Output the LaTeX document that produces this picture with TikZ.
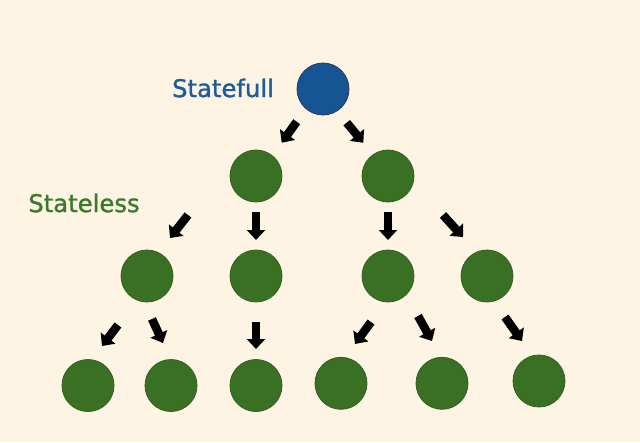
\documentclass[tikz,border=0pt]{standalone}
\usepackage{fontspec}
\setmainfont{DejaVu Sans}
\newfontfamily\labfont{DejaVu Sans}[FakeBold=1.2]
\usetikzlibrary{arrows.meta}
\definecolor{bg}{HTML}{FDF4E3}
\definecolor{bluefill}{HTML}{165594}
\definecolor{blueline}{HTML}{2B3560}
\definecolor{greenfill}{HTML}{3A7023}
\definecolor{greenline}{HTML}{335F22}
\definecolor{bluetext}{HTML}{1D5C9C}
\definecolor{greentext}{HTML}{3B7A2C}
\tikzset{
  statefull/.style={circle, minimum size=52pt, inner sep=0pt, fill=bluefill, draw=blueline, line width=0.8pt},
  stateless/.style={circle, minimum size=52pt, inner sep=0pt, fill=greenfill, draw=greenline, line width=0.8pt},
  blockarrow/.style={line width=8.5pt, -{Triangle[length=10pt,width=18pt]}, black},
  label/.style={font=\labfont\fontsize{24.3pt}{28pt}\selectfont, inner sep=0pt}
}
\begin{document}
\begin{tikzpicture}[x=1pt,y=-1pt]
\fill[bg] (0,0) rectangle (640,442);
\useasboundingbox (0,0) rectangle (640,442);
% labels
\node[label, text=bluetext] (tsf) at (223,88) {Statefull};
\node[label, text=greentext] (tsl) at (84,203) {Stateless};
% nodes
\node[statefull] (r) at (323,89) {};
\node[stateless] (l1a) at (256,176) {};
\node[stateless] (l1b) at (388,176) {};
\node[stateless] (l2a) at (147,276) {};
\node[stateless] (l2b) at (256,276) {};
\node[stateless] (l2c) at (388,276) {};
\node[stateless] (l2d) at (487,276) {};
\node[stateless] (l3a) at (88,385.5) {};
\node[stateless] (l3b) at (171,385.5) {};
\node[stateless] (l3c) at (256,385.5) {};
\node[stateless] (l3d) at (341,383.3) {};
\node[stateless] (l3e) at (442,383.3) {};
\node[stateless] (l3f) at (539,381) {};
% arrow endpoints
\coordinate (s1) at (296.7,121.7); \coordinate (e1) at (281.7,142.7);
\coordinate (s2) at (346.7,122.7); \coordinate (e2) at (363.3,142.7);
\coordinate (s3) at (188,215);     \coordinate (e3) at (170,238);
\coordinate (s4) at (256,212);     \coordinate (e4) at (256,240);
\coordinate (s5) at (388,212);     \coordinate (e5) at (388,240);
\coordinate (s6) at (443,215);     \coordinate (e6) at (463,237);
\coordinate (s7) at (118,325);     \coordinate (e7) at (102,346);
\coordinate (s8) at (152,319);     \coordinate (e8) at (163,343);
\coordinate (s9) at (256,322);     \coordinate (e9) at (256,349);
\coordinate (s10) at (371,322);    \coordinate (e10) at (355,344);
\coordinate (s11) at (418,316);    \coordinate (e11) at (432,341);
\coordinate (s12) at (505,317);    \coordinate (e12) at (522,341);
\foreach \i in {1,...,12}{\draw[blockarrow] (s\i) -- (e\i);}
\end{tikzpicture}
\end{document}
